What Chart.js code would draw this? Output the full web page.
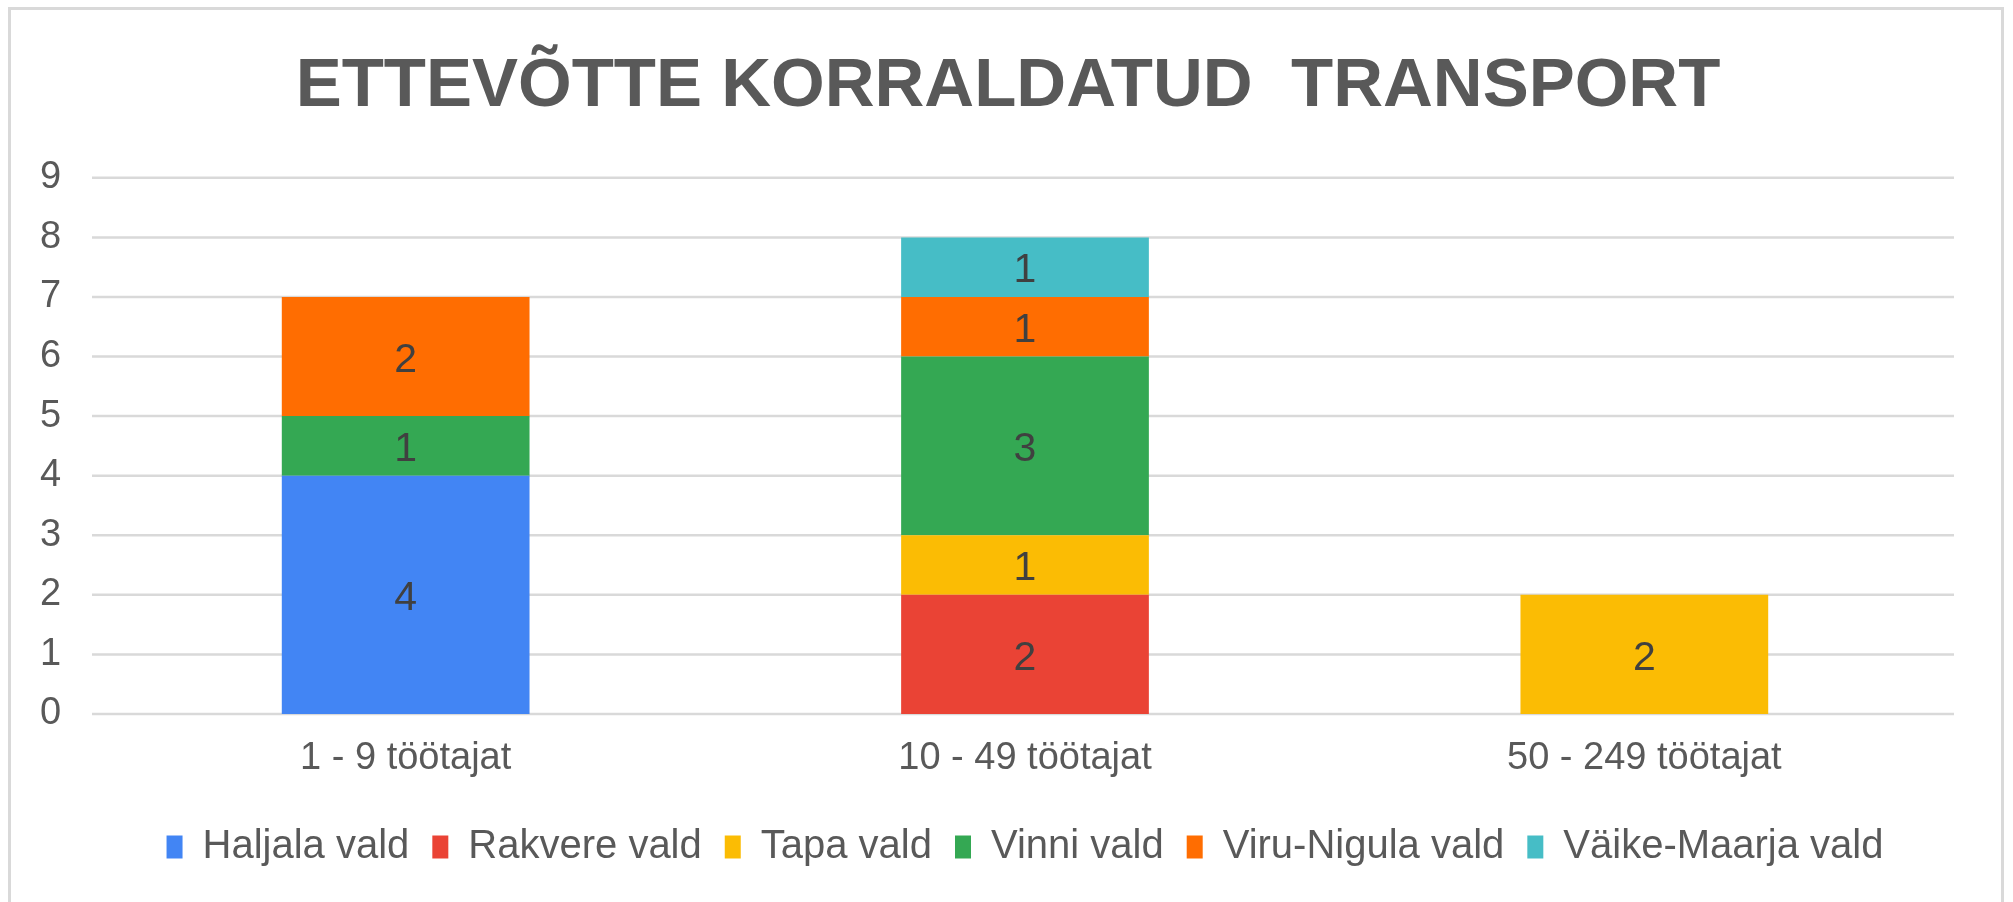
<!DOCTYPE html>
<html>
<head>
<meta charset="utf-8">
<script src="https://cdn.jsdelivr.net/npm/chart.js@4"></script>
<style>
  html, body { margin: 0; padding: 0; background: #ffffff; overflow: hidden; }
  #wrap { position: relative; width: 2013px; height: 902px; overflow: hidden; }
  #frame { position: absolute; left: 8px; top: 7px; width: 1990px; height: 1000px;
           border: 3px solid #d9d9d9; box-sizing: content-box; pointer-events: none; }
  #c { position: absolute; left: 0; top: 0; }
</style>
</head>
<body>
<div id="wrap">
  <div id="frame"></div>
  <canvas id="c" width="2013" height="902"></canvas>
</div>
<script>
const titleText = 'ETTEVÕTTE KORRALDATUD  TRANSPORT';
const categories = ['1 - 9 töötajat', '10 - 49 töötajat', '50 - 249 töötajat'];
const seriesNames = ['Haljala vald', 'Rakvere vald', 'Tapa vald', 'Vinni vald', 'Viru-Nigula vald', 'Väike-Maarja vald'];
const haljala     = [4, null, null];
const rakvere     = [null, 2, null];
const tapa        = [null, 1, 2];
const vinni       = [1, 3, null];
const viruNigula  = [2, 1, null];
const vaikeMaarja = [null, 1, null];
const seriesColors = ['#4285F4', '#EA4335', '#FBBC04', '#34A853', '#FF6D01', '#46BDC6'];
const yTicks = [0, 1, 2, 3, 4, 5, 6, 7, 8, 9];

const seriesValues = [haljala, rakvere, tapa, vinni, viruNigula, vaikeMaarja];
const FONT = "'Liberation Sans', Arial, Helvetica, sans-serif";

// horizontal grid lines drawn from the y scale's own tick positions
const gridLines = {
  id: 'gridLines',
  beforeDatasetsDraw(chart) {
    const ctx = chart.ctx;
    const y = chart.scales.y;
    const area = chart.chartArea;
    ctx.save();
    ctx.strokeStyle = '#d9d9d9';
    ctx.lineWidth = 2.5;
    y.ticks.forEach(t => {
      const py = y.getPixelForValue(t.value);
      ctx.beginPath();
      ctx.moveTo(area.left - 4, py);
      ctx.lineTo(area.right, py);
      ctx.stroke();
    });
    ctx.restore();
  }
};

const valueLabels = {
  id: 'valueLabels',
  afterDatasetsDraw(chart) {
    const ctx = chart.ctx;
    ctx.save();
    ctx.font = '41px ' + FONT;
    ctx.fillStyle = '#404040';
    ctx.textAlign = 'center';
    ctx.textBaseline = 'middle';
    chart.data.datasets.forEach((ds, di) => {
      const meta = chart.getDatasetMeta(di);
      if (meta.hidden) return;
      meta.data.forEach((el, i) => {
        const v = ds.data[i];
        if (v === null || v === undefined || v === 0) return;
        ctx.fillText(String(v), el.x, (el.y + el.base) / 2 + 4);
      });
    });
    ctx.restore();
  }
};

new Chart(document.getElementById('c'), {
  type: 'bar',
  data: {
    labels: categories,
    datasets: seriesNames.map((name, i) => ({
      label: name,
      data: seriesValues[i],
      backgroundColor: seriesColors[i],
      borderWidth: 0,
      categoryPercentage: 0.4,
      barPercentage: 1.0
    }))
  },
  options: {
    responsive: false,
    animation: false,
    layout: { padding: { left: 62, right: 59, top: 0, bottom: 25 } },
    plugins: {
      title: {
        display: true,
        text: titleText,
        color: '#595959',
        font: { family: FONT, size: 69, weight: 'bold', lineHeight: 1.2 },
        padding: { top: 46, bottom: 49 }
      },
      legend: {
        position: 'bottom',
        fullSize: false,
        labels: {
          color: '#595959',
          font: { family: FONT, size: 40 },
          boxWidth: 16,
          boxHeight: 23,
          padding: 23
        }
      },
      tooltip: { enabled: false }
    },
    scales: {
      x: {
        stacked: true,
        grid: { display: false, drawTicks: false },
        border: { display: false },
        ticks: {
          color: '#595959',
          font: { family: FONT, size: 38, lineHeight: '84px' },
          padding: 3,
          maxRotation: 0
        }
      },
      y: {
        stacked: true,
        min: 0,
        max: 9,
        afterBuildTicks(scale) { scale.ticks = yTicks.map(v => ({ value: v })); },
        afterFit(scale) { scale.width = 34; },
        grid: { display: false, drawTicks: false },
        border: { display: false },
        ticks: {
          color: '#595959',
          font: { family: FONT, size: 38 },
          mirror: true,
          padding: -56,
          stepSize: 1
        }
      }
    }
  },
  plugins: [gridLines, valueLabels]
});
</script>
</body>
</html>
